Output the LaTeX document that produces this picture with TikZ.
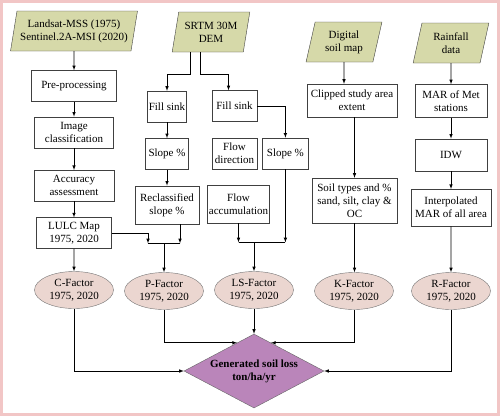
\documentclass[tikz,border=0pt]{standalone}
\usepackage{fontspec}
\setmainfont{Liberation Serif}
\usepackage{tikz}
\usetikzlibrary{shapes,arrows,positioning,calc}

\definecolor{datagreen}{HTML}{D6D9A9}
\definecolor{factorpink}{HTML}{EBD6D0}
\definecolor{genpurple}{HTML}{BA85BA}
\definecolor{framepink}{HTML}{F2C6C6}

\begin{document}
\begin{tikzpicture}[x=1pt, y=-1pt, font=\fontsize{11}{13}\selectfont,
    box/.style={rectangle, draw=black!75, fill=white, align=center, minimum height=31pt, inner xsep=1.5pt, inner ysep=2pt},
    data/.style={trapezium, trapezium left angle=76, trapezium right angle=104, trapezium stretches=true, draw=black!75, fill=datagreen, align=center, minimum height=40pt, inner sep=1pt},
    factor/.style={ellipse, draw=black!55, fill=factorpink, align=center, minimum width=79pt, minimum height=37pt, inner sep=0pt},
    arrow/.style={->, >=latex, line width=0.6pt}]

    \useasboundingbox (0,0) rectangle (500,416);
    \draw[draw=framepink, line width=2.5pt] (1.5,1.5) rectangle (498.5,414.5);

    % Land cover column
    \node[data, minimum width=127pt] (landsat) at (74,31) {Landsat-MSS (1975)\\Sentinel.2A-MSI (2020)};
    \node[box, minimum width=85pt, below=19pt of landsat] (prep) {Pre-processing};
    \node[box, minimum width=79pt, below=15pt of prep] (imgcls) {Image\\classification};
    \node[box, minimum width=80pt, below=22pt of imgcls] (accu) {Accuracy\\assessment};
    \node[box, minimum width=75pt, below=16pt of accu] (lulc) {LULC Map\\1975, 2020};

    % DEM columns
    \node[data, minimum width=78pt] (srtm) at (211,32) {SRTM 30M\\DEM};
    \node[box, minimum width=37pt] (fill1) at (167,106.5) {Fill sink};
    \node[box, minimum width=43pt, below=16pt of fill1] (slope1) {Slope \%};
    \node[box, minimum width=64pt, minimum height=38pt, below=16pt of slope1] (reclass) {Reclassified\\slope \%};
    \node[box, minimum width=45pt] (fill2) at (234.5,106) {Fill sink};
    \node[box, minimum width=45pt, below=16pt of fill2] (flowdir) {Flow\\direction};
    \node[box, minimum width=46pt, right=5pt of flowdir] (slope2) {Slope \%};
    \node[box, minimum width=57pt, minimum height=38pt] (flowacc) at (238.5,204) {Flow\\accumulation};

    % Soil column
    \node[data, minimum width=76pt] (soilmap) at (344,42) {Digital\\soil map};
    \node[box, minimum width=90pt, minimum height=33pt] (clip) at (352,100.5) {Clipped study area\\extent};
    \node[box, minimum width=85pt, minimum height=45pt] (soiltype) at (354.5,200.5) {Soil types and \%\\sand, silt, clay \&\\OC};

    % Rainfall column
    \node[data, minimum width=76pt] (rain) at (451,43) {Rainfall\\data};
    \node[box, minimum width=72pt, minimum height=33pt, below=21pt of rain] (marmet) {MAR of Met\\stations};
    \node[box, minimum width=72pt, minimum height=32pt, below=21pt of marmet] (idw) {IDW};
    \node[box, minimum width=80pt, minimum height=37pt, below=18pt of idw] (interp) {Interpolated\\MAR of all area};

    % Factors
    \node[factor] (cfac) at (74,290) {C-Factor\\1975, 2020};
    \node[factor] (pfac) at (164,291) {P-Factor\\1975, 2020};
    \node[factor] (lsfac) at (254,290) {LS-Factor\\1975, 2020};
    \node[factor] (kfac) at (354,291) {K-Factor\\1975, 2020};
    \node[factor] (rfac) at (451,291) {R-Factor\\1975, 2020};

    % Output
    \node[diamond, aspect=1.9, draw=black!60, fill=genpurple, minimum width=140pt, minimum height=74pt, inner sep=0pt, align=center, font=\fontsize{11}{13}\selectfont\bfseries] (soilloss) at (254,371) {Generated soil loss\\ton/ha/yr};

    % Arrows
    \draw[arrow] (landsat) -- (prep);
    \draw[arrow] (prep) -- (imgcls);
    \draw[arrow] (imgcls) -- (accu);
    \draw[arrow] (accu) -- (lulc);
    \draw[arrow] (lulc) -- (cfac);

    \draw[arrow] ([xshift=-21pt]srtm.south) -- ++(0,22) -| (fill1);
    \draw[arrow] ([xshift=-11pt]srtm.south) -- ++(0,22) -| ([xshift=-6pt]fill2.north);
    \draw[arrow] (fill1) -- (slope1);
    \draw[arrow] (slope1) -- (reclass);
    \draw[arrow] (fill2) -| (slope2);

    \coordinate (pjoin) at ([yshift=29pt]pfac.north);
    \coordinate (pjoinl) at ([xshift=-16pt]pjoin);
    \coordinate (pjoinr) at ([xshift=16pt]pjoin);
    \draw[arrow] (lulc) -| (pjoinl);
    \draw[arrow] (pjoinr |- reclass.south) -- (pjoinr);
    \draw[line width=0.6pt] (pjoinl) -- (pjoinr);
    \draw[arrow] (pjoin) -- (pfac);

    \coordinate (lsjoin) at ([yshift=29pt]lsfac.north);
    \draw[arrow] (flowacc) -- (flowacc |- lsjoin);
    \draw[arrow] (slope2) -- (slope2 |- lsjoin);
    \draw[line width=0.6pt] (flowacc |- lsjoin) -- (slope2 |- lsjoin);
    \draw[arrow] (lsjoin) -- (lsfac);

    \draw[arrow] (soilmap) -- (soilmap |- clip.north);
    \draw[arrow] (clip.south -| soiltype) -- (soiltype);
    \draw[arrow] (soiltype) -- (soiltype |- kfac.north);

    \draw[arrow] (rain) -- (marmet);
    \draw[arrow] (marmet) -- (idw);
    \draw[arrow] (idw) -- (interp);
    \draw[arrow] (interp) -- (rfac);

    \draw[arrow] (cfac) |- (soilloss);
    \draw[arrow] (pfac) |- (soilloss.121);
    \draw[arrow] (lsfac) -- (soilloss);
    \draw[arrow] (kfac) |- (soilloss.59);
    \draw[arrow] (rfac) |- (soilloss);

\end{tikzpicture}
\end{document}
